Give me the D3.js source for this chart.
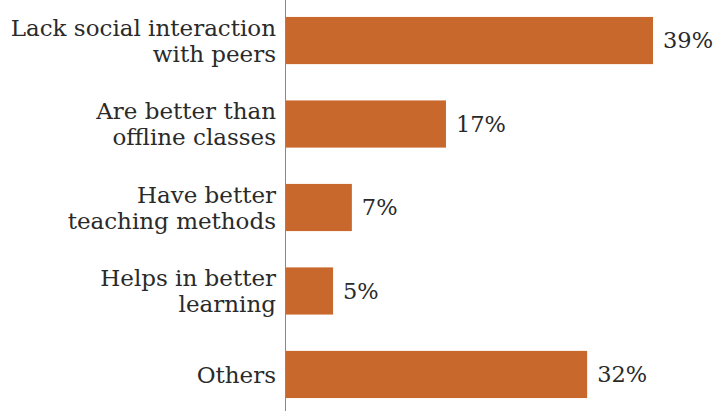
<!DOCTYPE html>
<html>
<head>
<meta charset="utf-8">
<script src="https://cdn.jsdelivr.net/npm/d3@7"></script>
<style>
  body { margin: 0; background: #fff; }
  text { font-family: "DejaVu Serif", serif; fill: #2a2a2a; }
</style>
</head>
<body>
<div id="chart"></div>
<script>
  let width = 715,
    height = 411

  let categories = [
    ['Lack social interaction', 'with peers'],
    ['Are better than', 'offline classes'],
    ['Have better', 'teaching methods'],
    ['Helps in better', 'learning'],
    ['Others']
  ]
  let values = [39, 17, 7, 5, 32]

  let margin = { left: 286 }

  let svg = d3.select('#chart')
    .append('svg')
    .attr('width', width)
    .attr('height', height)

  let keys = categories.map(c => c.join(' '))

  let x = d3.scaleLinear().domain([0, 39]).range([margin.left, 653])
  let y = d3.scaleBand().domain(keys).range([-1, 416]).paddingInner(0.435).paddingOuter(0.215)

  svg.selectAll('.bar')
    .data(values)
    .enter()
    .append('rect')
    .attr('class', 'bar')
    .attr('x', x(0))
    .attr('y', (d, i) => y(keys[i]))
    .attr('width', d => x(d) - x(0))
    .attr('height', y.bandwidth())
    .attr('fill', '#c9682c')

  svg.selectAll('.value')
    .data(values)
    .enter()
    .append('text')
    .attr('class', 'value')
    .attr('x', d => x(d) + 10)
    .attr('y', (d, i) => y(keys[i]) + y.bandwidth() / 2)
    .attr('dy', '0.35em')
    .style('font-size', '22.5px')
    .text(d => d + '%')

  let labels = svg.selectAll('.label')
    .data(categories)
    .enter()
    .append('text')
    .attr('class', 'label')
    .attr('text-anchor', 'end')
    .style('font-size', '23px')
    .attr('y', (d, i) => y(keys[i]) + y.bandwidth() / 2)

  labels.selectAll('tspan')
    .data(d => d.map((t, j) => ({ t, j, n: d.length })))
    .enter()
    .append('tspan')
    .attr('x', margin.left - 10)
    .attr('dy', d => d.j === 0 ? (0.35 - (d.n - 1) * 0.565) + 'em' : '1.13em')
    .text(d => d.t)

  svg.append('line')
    .attr('x1', margin.left - 0.5)
    .attr('x2', margin.left - 0.5)
    .attr('y1', 0)
    .attr('y2', height)
    .attr('stroke', '#888')
    .attr('stroke-width', 1)
</script>
</body>
</html>
